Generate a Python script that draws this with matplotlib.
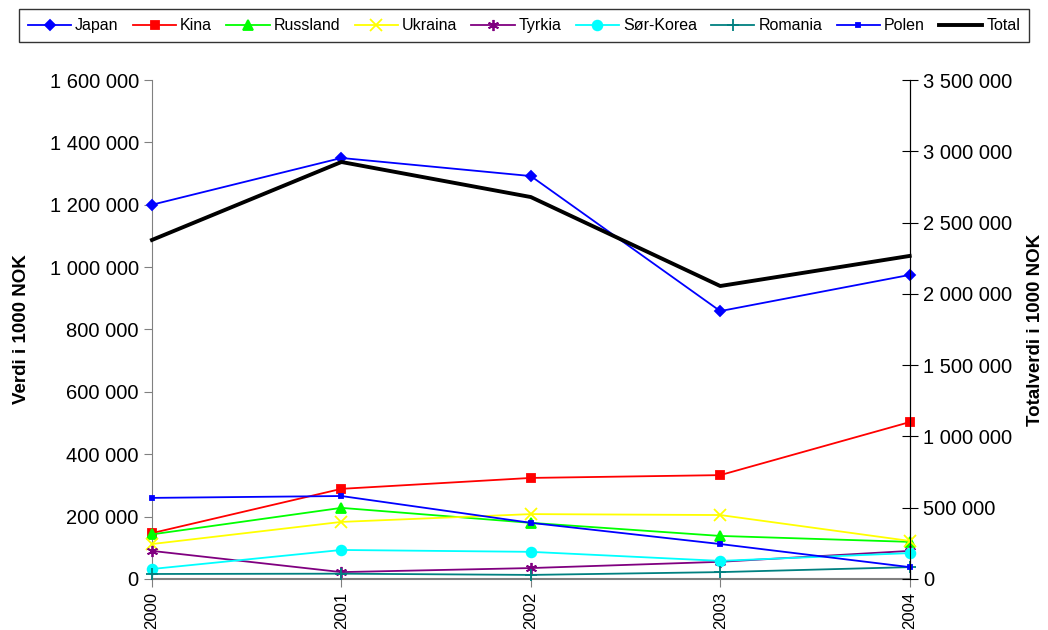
import numpy as np
import matplotlib.pyplot as plt
from matplotlib.ticker import FuncFormatter

plt.rcParams['font.family'] = ['Liberation Sans', 'DejaVu Sans']

years = [2000, 2001, 2002, 2003, 2004]

japan = [1200000, 1350000, 1292000, 859000, 975000]
kina = [147000, 289000, 324000, 333000, 503000]
russland = [143000, 228000, 180000, 138000, 119000]
ukraina = [112000, 183000, 208000, 205000, 122000]
tyrkia = [90000, 22000, 35000, 55000, 90000]
sor_korea = [32000, 93000, 87000, 58000, 83000]
romania = [16000, 17000, 13000, 22000, 38000]
polen = [260000, 266000, 180000, 112000, 38000]
total = [2378000, 2925000, 2679000, 2055000, 2266000]

def space_fmt(v, pos):
    return '{:,.0f}'.format(v).replace(',', ' ')

fig = plt.figure(figsize=(10.48, 6.3), dpi=100)
ax = fig.add_axes([0.145, 0.081, 0.723, 0.792])
ax2 = ax.twinx()

series = [
    ('Japan', japan, '#0000ff', 'D', 5.5),
    ('Kina', kina, '#ff0000', 's', 6),
    ('Russland', russland, '#00ff00', '^', 7),
    ('Ukraina', ukraina, '#ffff00', 'x', 8),
    ('Tyrkia', tyrkia, '#800080', (6, 2, 0), 8),
    ('Sør-Korea', sor_korea, '#00ffff', 'o', 7),
    ('Romania', romania, '#008080', '+', 9),
    ('Polen', polen, '#0000ff', 's', 3),
]

handles = []
for name, vals, col, mk, ms in series:
    h, = ax.plot(years, vals, color=col, marker=mk, markersize=ms, lw=1.3,
                 markeredgewidth=1.3, label=name, clip_on=False, zorder=3)
    handles.append(h)

ht, = ax2.plot(years, total, color='black', lw=2.8, label='Total', clip_on=False)
handles.append(ht)

ax.set_xlim(2000, 2004)
ax.set_ylim(0, 1600000)
ax2.set_ylim(0, 3500000)
ax.set_yticks(np.arange(0, 1600001, 200000))
ax2.set_yticks(np.arange(0, 3500001, 500000))
ax.yaxis.set_major_formatter(FuncFormatter(space_fmt))
ax2.yaxis.set_major_formatter(FuncFormatter(space_fmt))
ax.set_xticks(years)
ax.set_xticklabels([str(y) for y in years], rotation=90, fontsize=12)

ax.tick_params(axis='y', labelsize=14.5, direction='out', length=6, color='#808080')
ax2.tick_params(axis='y', labelsize=14.5, direction='inout', length=12, color='black')
ax.tick_params(axis='x', direction='inout', length=12, color='#808080')

for a in (ax, ax2):
    a.spines['top'].set_visible(False)
ax.spines['left'].set_color('#808080')
ax.spines['bottom'].set_color('#808080')
ax.spines['bottom'].set_linewidth(1.5)
ax2.spines['left'].set_visible(False)
ax2.spines['bottom'].set_visible(False)
ax2.spines['right'].set_color('black')

ax.set_ylabel('Verdi i 1000 NOK', fontsize=13.5, fontweight='bold', labelpad=14)
ax2.set_ylabel('Totalverdi i 1000 NOK', fontsize=13.5, fontweight='bold', labelpad=11)

leg = fig.legend(handles=handles, loc='upper center', bbox_to_anchor=(0.5, 0.99),
                 ncol=9, fontsize=11.5, frameon=True, fancybox=False, edgecolor='black',
                 handlelength=2.7, handletextpad=0.25, columnspacing=0.9,
                 borderpad=0.55, borderaxespad=0.2)
leg.get_frame().set_linewidth(1.0)

fig.savefig('out.png', dpi=100)
